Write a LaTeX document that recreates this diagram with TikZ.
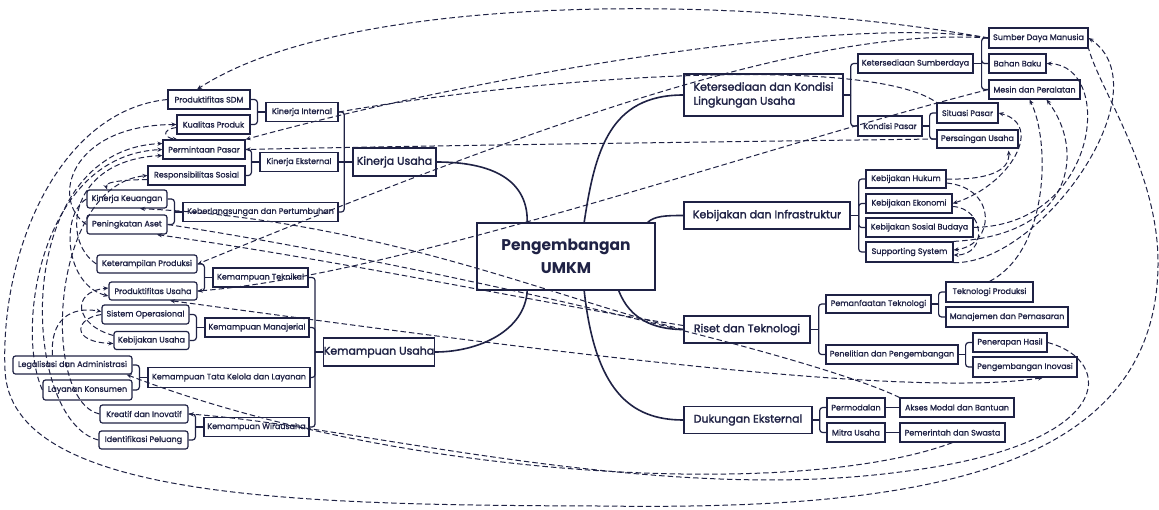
\documentclass[tikz,border=0pt]{standalone}
\usepackage{fontspec}
\setmainfont{Poppins}
\newfontfamily\pSmall{Poppins}[BoldFont={Poppins}, BoldFeatures={FakeBold=1.2}]
\newfontfamily\pMain{Poppins}[BoldFont={Poppins}, BoldFeatures={FakeBold=2}]
\usetikzlibrary{arrows.meta,calc}
\definecolor{nv}{HTML}{1F2245}
\newcommand\fsmx{\pSmall\bfseries\fontsize{8}{9.5}\selectfont}
\newcommand\fmnx{\pMain\bfseries\fontsize{11}{14}\selectfont}
\newcommand\fctx{\fontsize{15.5}{23}\selectfont\bfseries}
\begin{document}
\begin{tikzpicture}[x=1pt,y=-1pt,
  box/.style={draw=nv, line width=1.2pt, fill=white, text=nv, font=\fsmx, inner sep=0pt, minimum height=19pt},
  rbox/.style={box, rounded corners=2.5pt},
  mbox/.style={draw=nv, line width=1.4pt, fill=white, text=nv, font=\fmnx, inner sep=0pt, minimum height=27pt},
  tree/.style={draw=nv, line width=1.2pt, rounded corners=3pt},
  trunk/.style={draw=nv, line width=1.6pt},
  lk/.style={draw=nv, line width=1pt, dash pattern=on 5.5pt off 3pt},
  ar/.style={lk, -{Stealth[length=5pt,width=4.2pt]}},
  ab/.style={lk, {Stealth[length=5pt,width=4.2pt]}-{Stealth[length=5pt,width=4.2pt]}}]
\fill[white] (0,0) rectangle (1159,509);
\useasboundingbox (0,0) rectangle (1159,509);

% ---------- left: Kinerja Usaha
\node[box, minimum width=82pt] (PSDM) at (209,99.5) {Produktifitas SDM};
\node[box, minimum width=73pt] (KP) at (213.5,124.5) {Kualitas Produk};
\node[box, minimum width=82pt] (PP) at (204,149.5) {Permintaan Pasar};
\node[box, minimum width=97pt] (RS) at (196.5,175.5) {Responsibilitas Sosial};
\node[rbox, minimum width=80pt, minimum height=18pt] (KK) at (127,199) {Kinerja Keuangan};
\node[rbox, minimum width=80pt] (PA) at (127,224.5) {Peningkatan Aset};
\node[box, minimum width=72pt] (KI) at (302,112) {Kinerja Internal};
\node[box, minimum width=78pt] (KE) at (299,162) {Kinerja Eksternal};
\node[box, minimum width=155pt] (KB) at (260.5,212) {Keberlangsungan dan Pertumbuhan};
\node[mbox, minimum width=83pt, minimum height=28pt] (KU) at (394.5,162) {Kinerja Usaha};

% ---------- left: Kemampuan Usaha
\node[rbox, minimum width=100pt, minimum height=18pt] (KPr) at (147,264) {Keterampilan Produksi};
\node[box, minimum width=95pt] (KT) at (260.5,277.5) {Kemampuan Teknikal};
\node[rbox, minimum width=88pt, minimum height=18pt] (PU) at (153,291) {Produktifitas Usaha};
\node[rbox, minimum width=87pt] (SO) at (145.5,314.5) {Sistem Operasional};
\node[box, minimum width=104pt] (KM) at (257,327.5) {Kemampuan Manajerial};
\node[rbox, minimum width=75pt, minimum height=18pt] (KbU) at (151.5,340.5) {Kebijakan Usaha};
\node[rbox, minimum width=119pt, minimum height=18pt] (LA) at (72.5,365) {Legalisasi dan Administrasi};
\node[box, minimum width=162pt, minimum height=20pt] (TK) at (229,377.5) {Kemampuan Tata Kelola dan Layanan};
\node[rbox, minimum width=89pt, minimum height=20pt] (LK) at (87.5,390) {Layanan Konsumen};
\node[rbox, minimum width=88pt, minimum height=18pt] (KrI) at (144,414) {Kreatif dan Inovatif};
\node[box, minimum width=105pt] (KW) at (256.5,427) {Kemampuan Wirausaha};
\node[rbox, minimum width=89pt, minimum height=18pt] (IP) at (143.5,440) {Identifikasi Peluang};
\node[mbox, minimum width=108pt, minimum height=28pt] (KmU) at (379,352) {Kemampuan Usaha};

% ---------- centre
\node[draw=nv, line width=1.6pt, fill=white, text=nv, font=\fctx, align=center,
      minimum width=178pt, minimum height=67pt, inner sep=0pt] (C) at (566,256.5) {Pengembangan\\UMKM};

% ---------- right
\node[mbox, minimum width=159pt, minimum height=42pt, align=left] (KL) at (763.5,95) {Ketersediaan dan Kondisi\\Lingkungan Usaha};
\node[box, minimum width=115pt] (KS) at (915.5,63.5) {Ketersediaan Sumberdaya};
\node[box, minimum width=64pt, minimum height=20pt] (KoP) at (890,126) {Kondisi Pasar};
\node[box, minimum width=99pt, minimum height=20pt] (SDM) at (1038.5,38) {Sumber Daya Manusia};
\node[box, minimum width=57pt] (BB) at (1017.5,63.5) {Bahan Baku};
\node[box, minimum width=91pt] (MP) at (1034.5,89.5) {Mesin dan Peralatan};
\node[box, minimum width=61pt, minimum height=20pt] (SP) at (967.5,113) {Situasi Pasar};
\node[box, minimum width=81pt, minimum height=18pt] (PeU) at (977.5,139) {Persaingan Usaha};

\node[mbox, minimum width=166pt] (KI2) at (767,215.5) {Kebijakan dan Infrastruktur};
\node[box, minimum width=80pt, minimum height=18pt] (KH) at (906,179) {Kebijakan Hukum};
\node[box, minimum width=86pt] (KEk) at (909,203.5) {Kebijakan Ekonomi};
\node[box, minimum width=107pt] (KSB) at (919.5,227.5) {Kebijakan Sosial Budaya};
\node[box, minimum width=87pt, minimum height=20pt] (SS) at (909.5,252) {Supporting System};

\node[mbox, minimum width=126pt] (RT) at (747,329.5) {Riset dan Teknologi};
\node[box, minimum width=105pt, minimum height=18pt] (PT) at (878.5,304) {Pemanfaatan Teknologi};
\node[box, minimum width=132pt] (PdP) at (892,354.5) {Penelitian dan Pengembangan};
\node[box, minimum width=87pt, minimum height=20pt] (TP) at (989.5,292) {Teknologi Produksi};
\node[box, minimum width=122pt, minimum height=20pt] (MdP) at (1007,317) {Manajemen dan Pemasaran};
\node[box, minimum width=74pt] (PH) at (1010,342.5) {Penerapan Hasil};
\node[box, minimum width=104pt, minimum height=20pt] (PI) at (1025,367) {Pengembangan Inovasi};

\node[mbox, minimum width=128pt] (DE) at (748,420) {Dukungan Eksternal};
\node[box, minimum width=58pt] (PM) at (856,407.5) {Permodalan};
\node[box, minimum width=58pt] (MU) at (856,432.5) {Mitra Usaha};
\node[box, minimum width=114pt] (AMB) at (957,407.5) {Akses Modal dan Bantuan};
\node[box, minimum width=105pt] (PdS) at (952.5,432.5) {Pemerintah dan Swasta};

% ---------- trunk curves
\draw[trunk] (KU.east) .. controls (500,162) and (528,185) .. ($(C.north west)+(51,0)$);
\draw[trunk] ($(C.north west)+(108,0)$) .. controls (595,150) and (610,95) .. (KL.west);
\draw[trunk] ($(C.north east)+(-8,0)$) .. controls (655,216) and (665,215.5) .. (KI2.west);
\draw[trunk] ($(C.south east)+(-37,0)$) .. controls (630,320) and (655,329.5) .. (RT.west);
\draw[trunk] ($(C.south west)+(108,0)$) .. controls (595,390) and (630,420) .. (DE.west);
\draw[trunk] ($(C.south west)+(51,0)$) .. controls (525,330) and (480,352) .. (KmU.east);

% ---------- tree brackets (left)
\draw[tree] (KU.west) -- ++(-8,0) coordinate (bKU);
\draw[tree] (bKU) |- (KI.east);
\draw[tree] (bKU) |- (KB.east);
\draw[tree] (bKU) -- (KE.east);
\draw[tree] (KI.west) -- ++(-8,0) coordinate (bKI);
\draw[tree] (bKI) |- (PSDM.east);
\draw[tree] (bKI) |- (KP.east);
\draw[tree] (KE.west) -- ++(-8,0) coordinate (bKE);
\draw[tree] (bKE) |- (PP.east);
\draw[tree] (bKE) |- (RS.east);
\draw[tree] (KB.west) -- ++(-8,0) coordinate (bKB);
\draw[tree] (bKB) |- (KK.east);
\draw[tree] (bKB) |- (PA.east);

\draw[tree] (KmU.west) -- ++(-8,0) coordinate (bKm);
\draw[tree] (bKm) |- (KT.east);
\draw[tree] (bKm) |- (KM.east);
\draw[tree] (bKm) |- (TK.east);
\draw[tree] (bKm) |- (KW.east);
\draw[tree] (KT.west) -- ++(-8,0) coordinate (bKT);
\draw[tree] (bKT) |- (KPr.east);
\draw[tree] (bKT) |- (PU.east);
\draw[tree] (KM.west) -- ++(-8,0) coordinate (bKM);
\draw[tree] (bKM) |- (SO.east);
\draw[tree] (bKM) |- (KbU.east);
\draw[tree] (TK.west) -- ++(-8,0) coordinate (bTK);
\draw[tree] (bTK) |- (LA.east);
\draw[tree] (bTK) |- (LK.east);
\draw[tree] (KW.west) -- ++(-8,0) coordinate (bKW);
\draw[tree] (bKW) |- (KrI.east);
\draw[tree] (bKW) |- (IP.east);

% ---------- tree brackets (right)
\draw[tree] (KL.east) -- ++(7,0) coordinate (bKL);
\draw[tree] (bKL) |- (KS.west);
\draw[tree] (bKL) |- (KoP.west);
\draw[tree] (KS.east) -- ++(8,0) coordinate (bKS);
\draw[tree] (bKS) |- (SDM.west);
\draw[tree] (bKS) |- (BB.west);
\draw[tree] (bKS) |- (MP.west);
\draw[tree] (KoP.east) -- ++(7,0) coordinate (bKo);
\draw[tree] (bKo) |- (SP.west);
\draw[tree] (bKo) |- (PeU.west);
\draw[tree] (KI2.east) -- ++(8,0) coordinate (bKI2);
\draw[tree] (bKI2) |- (KH.west);
\draw[tree] (bKI2) |- (KEk.west);
\draw[tree] (bKI2) |- (KSB.west);
\draw[tree] (bKI2) |- (SS.west);
\draw[tree] (RT.east) -- ++(8,0) coordinate (bRT);
\draw[tree] (bRT) |- (PT.west);
\draw[tree] (bRT) |- (PdP.west);
\draw[tree] (PT.east) -- ++(7,0) coordinate (bPT);
\draw[tree] (bPT) |- (TP.west);
\draw[tree] (bPT) |- (MdP.west);
\draw[tree] (PdP.east) -- ++(7,0) coordinate (bPd);
\draw[tree] (bPd) |- (PH.west);
\draw[tree] (bPd) |- (PI.west);
\draw[tree] (DE.east) -- ++(7,0) coordinate (bDE);
\draw[tree] (bDE) |- (PM.west);
\draw[tree] (bDE) |- (MU.west);
\draw[tree] (PM.east) -- (AMB.west);
\draw[tree] (MU.east) -- (PdS.west);

% ---------- dashed links: top
\draw[ar] (SDM.west) .. controls (750,-5) and (350,-10) .. ($(PSDM.north)+(-12,0)$);
\draw[lk] (KI.east) .. controls (550,75) and (870,55) .. (SP.north west);
\draw[ar] (SDM.west) .. controls (850,15) and (500,70) .. (PP.north east);
\draw[ar] (PeU.west) .. controls (700,142) and (400,146) .. (PP.east);
\draw[ar] (SDM.west) .. controls (800,25) and (500,140) .. (KPr.east);
\draw[ar] (MP.west) .. controls (750,150) and (400,275) .. (PU.east);

% ---------- dashed links: right loops
\draw[ar] (KH.east) .. controls (985,180) and (1010,172) .. ($(PeU.south east)+(-10,2)$);
\draw[ab] (KEk.east) .. controls (1010,185) and (1045,125) .. (SP.east);
\draw[ar] ($(KH.east)+(0,4)$) .. controls (998,188) and (995,245) .. ($(SS.east)+(0,-2)$);
\draw[ar] ($(KEk.east)+(0,3)$) .. controls (985,208) and (988,255) .. ($(SS.east)+(0,3)$);
\draw[ar] (KSB.east) .. controls (1100,225) and (1115,65) .. (BB.east);
\draw[ar] (SS.south east) .. controls (1040,265) and (1165,90) .. (SDM.east);
\draw[ar] (TP.north) .. controls (1050,250) and (1050,140) .. ($(MP.south)+(-5,0)$);
\draw[ar] (SS.north east) .. controls (1075,235) and (1085,150) .. ($(MP.south)+(12,0)$);

% ---------- dashed links: bottom arcs
\draw[lk] (PSDM.west) .. controls (60,110) and (0,250) .. (5,370)
   .. controls (10,500) and (300,505) .. (600,506)
   .. controls (900,510) and (1160,480) .. (1158,260)
   .. controls (1157,170) and (1100,90) .. (SDM.south east);
\draw[ar] (PH.east) .. controls (1115,360) and (1120,445) .. (900,472)
   .. controls (650,505) and (350,425) .. (KrI.east);
\draw[ar] (PdS.south) .. controls (800,500) and (400,480) .. ($(LA.south east)+(-6,0)$);

% ---------- dashed links: middle
\draw[ar] (RT.west) .. controls (560,300) and (380,220) .. ($(KK.south)+(13,0)$);
\draw[ar] ($(RT.west)+(0,-4)$) .. controls (550,305) and (350,262) .. ($(PA.south)+(30,0)$);
\draw[lk] (PA.east) .. controls (400,260) and (800,350) .. (AMB.north west);
\draw[ab] ($(PU.south)+(17,0)$) .. controls (500,345) and (900,400) .. ($(PI.south)+(18,0)$);

% ---------- dashed links: left cluster
\draw[ar] (IP.west) .. controls (20,420) and (10,150) .. ($(PP.west)+(0,-6)$);
\draw[ar] (KrI.west) .. controls (40,400) and (50,185) .. (RS.west);
\draw[ar] (LK.west) .. controls (15,330) and (40,155) .. (PP.west);
\draw[ar] ($(LA.north)+(-20,0)$) .. controls (50,320) and (70,306) .. ($(SO.west)+(0,-3)$);
\draw[ar] (SO.west) .. controls (75,318) and (70,342) .. ($(KbU.west)+(0,3)$);
\draw[ar] ($(KbU.west)+(0,-5)$) .. controls (75,325) and (70,292) .. ($(PU.west)+(0,-3)$);
\draw[ar] ($(KP.west)+(0,3)$) .. controls (160,130) and (165,138) .. ($(PP.north west)+(15,0)$);
\draw[ar] (PA.west) .. controls (50,200) and (70,125) .. (KP.west);
\draw[ar] (KPr.west) .. controls (60,240) and (70,160) .. ($(PP.west)+(0,6)$);
\draw[ar] ($(RS.west)+(0,4)$) .. controls (115,180) and (105,183) .. ($(KK.north)+(-20,0)$);
\draw[ar] (KK.west) .. controls (60,215) and (65,285) .. ($(PU.west)+(0,5)$);
\end{tikzpicture}
\end{document}
